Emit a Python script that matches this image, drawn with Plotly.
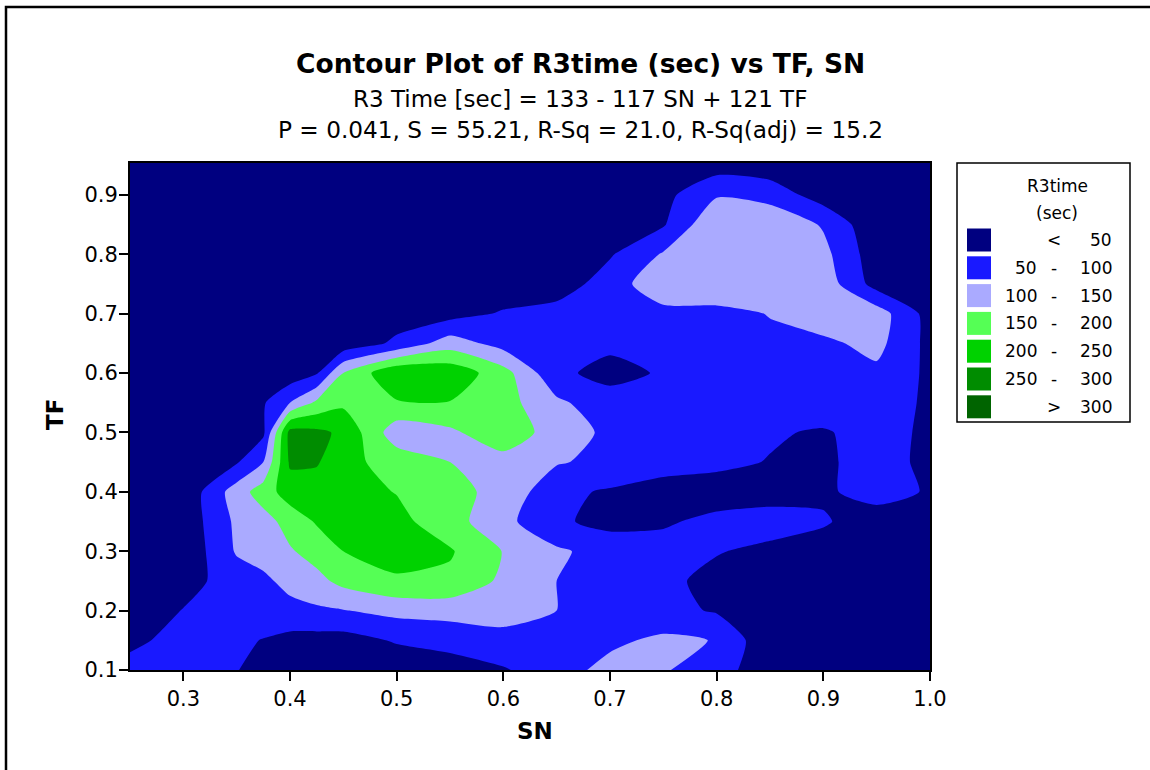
import plotly.graph_objects as go

# ---------------- data ----------------
sn_values = [0.25, 0.30, 0.35, 0.375, 0.40, 0.425, 0.45, 0.50, 0.55, 0.60, 0.65, 0.70, 0.75, 0.80, 0.85, 0.90, 0.95, 1.00]
tf_values = [0.10, 0.15, 0.20, 0.25, 0.30, 0.35, 0.40, 0.45, 0.50, 0.55, 0.60, 0.65, 0.70, 0.75, 0.80, 0.85, 0.90, 0.95]

# R3time (sec) estimated on the grid, one list per TF row (SN order as above)
r3_tf010 = [65, 60, 52, 30, 15, 12, 10, 15, 30, 45, 80, 115, 105, 70, 20, 10, 10, 10]
r3_tf015 = [40, 65, 60, 48, 35, 32, 30, 55, 65, 88, 92, 90, 110, 98, 10, 10, 10, 10]
r3_tf020 = [15, 52, 70, 78, 85, 92, 98, 115, 120, 115, 100, 85, 65, 45, 25, 20, 15, 15]
r3_tf025 = [5, 30, 75, 90, 115, 135, 165, 195, 190, 140, 100, 80, 58, 40, 30, 25, 20, 15]
r3_tf030 = [5, 10, 105, 120, 145, 170, 200, 215, 205, 148, 108, 80, 65, 52, 42, 30, 20, 15]
r3_tf035 = [5, 15, 110, 130, 170, 205, 220, 215, 170, 115, 58, 35, 45, 60, 65, 55, 25, 15]
r3_tf040 = [10, 10, 125, 175, 225, 225, 220, 198, 160, 140, 60, 45, 30, 30, 35, 42, 70, 45]
r3_tf045 = [10, 12, 45, 100, 258, 255, 215, 180, 150, 130, 105, 85, 70, 60, 48, 40, 75, 35]
r3_tf050 = [10, 10, 5, 40, 268, 262, 240, 120, 140, 185, 125, 90, 75, 65, 55, 45, 70, 40]
r3_tf055 = [10, 12, 25, 45, 100, 160, 190, 195, 198, 170, 110, 70, 65, 70, 75, 80, 80, 40]
r3_tf060 = [8, 10, 12, 15, 20, 45, 150, 245, 235, 170, 60, 35, 55, 70, 80, 85, 90, 40]
r3_tf065 = [10, 12, 15, 17, 20, 22, 15, 60, 125, 80, 70, 60, 70, 80, 90, 90, 115, 35]
r3_tf070 = [10, 12, 15, 16, 18, 20, 22, 25, 30, 55, 70, 80, 85, 85, 102, 130, 125, 30]
r3_tf075 = [10, 10, 12, 13, 15, 16, 18, 20, 20, 18, 22, 75, 135, 140, 140, 130, 30, 10]
r3_tf080 = [10, 10, 12, 12, 12, 13, 15, 15, 20, 25, 32, 45, 105, 145, 140, 115, 20, 8]
r3_tf085 = [10, 10, 10, 10, 10, 11, 12, 12, 15, 20, 25, 30, 45, 145, 140, 95, 10, 5]
r3_tf090 = [10, 10, 10, 10, 10, 10, 10, 10, 12, 15, 20, 30, 35, 95, 80, 25, 20, 15]
r3_tf095 = [10, 10, 10, 10, 10, 10, 10, 10, 10, 10, 10, 12, 15, 27, 20, 10, 10, 10]

level_start = 50
level_end = 300
level_step = 50
band_colors = ["#000080", "#1919FF", "#AAAAFF", "#55FF55", "#00D200", "#008C00", "#006400"]
legend_left = ["", "50", "100", "150", "200", "250", ""]
legend_mid = ["<", "-", "-", "-", "-", "-", ">"]
legend_right = ["50", "100", "150", "200", "250", "300", "300"]
x_ticks = [0.3, 0.4, 0.5, 0.6, 0.7, 0.8, 0.9, 1.0]
y_ticks = [0.1, 0.2, 0.3, 0.4, 0.5, 0.6, 0.7, 0.8, 0.9]

z_grid = [r3_tf010, r3_tf015, r3_tf020, r3_tf025, r3_tf030, r3_tf035, r3_tf040, r3_tf045, r3_tf050,
          r3_tf055, r3_tf060, r3_tf065, r3_tf070, r3_tf075, r3_tf080, r3_tf085, r3_tf090, r3_tf095]

# ---------------- figure ----------------
W, H = 1150, 770
PL, PR, PT, PB = 130, 930, 163, 670  # plot area in pixels


def px_x(px):
    return (px - PL) / (PR - PL)


def px_y(py):
    return (PB - py) / (PB - PT)


# stepwise colorscale, each band colour evaluated at the band midpoint
n = len(band_colors)
colorscale = []
for i, c in enumerate(band_colors):
    lo = max(0.0, (i - 0.5) / (n - 1))
    hi = min(1.0, (i + 0.5) / (n - 1))
    colorscale.append([lo, c])
    colorscale.append([hi, c])

fig = go.Figure()
fig.add_trace(go.Contour(
    x=sn_values, y=tf_values, z=z_grid,
    contours=dict(start=level_start, end=level_end, size=level_step,
                  coloring="fill", showlines=False),
    colorscale=colorscale, showscale=False,
    line=dict(width=0, smoothing=0.6),
    hoverinfo="skip",
))

FONT = "DejaVu Sans"

fig.update_layout(
    width=W, height=H,
    margin=dict(l=PL, r=W - PR, t=PT, b=H - PB, pad=0),
    paper_bgcolor="white", plot_bgcolor="#000080",
    showlegend=False,
    font=dict(family=FONT, color="black"),
    xaxis=dict(range=[0.25, 1.0], tickvals=x_ticks, ticktext=[f"{v:.1f}" for v in x_ticks],
               showgrid=False, zeroline=False, showline=True, linecolor="black", linewidth=2,
               mirror=True, ticks="outside", ticklen=9, tickwidth=2, tickcolor="black",
               tickfont=dict(size=21, family=FONT, color="black")),
    yaxis=dict(range=[0.1, 0.1 + (PB - PT) / 594.0], tickvals=y_ticks,
               ticktext=[f"{v:.1f}" for v in y_ticks],
               showgrid=False, zeroline=False, showline=True, linecolor="black", linewidth=2,
               mirror=True, ticks="outside", ticklen=9, tickwidth=2, tickcolor="black",
               ticklabelstandoff=-3,
               tickfont=dict(size=21, family=FONT, color="black")),
)

ann = []
# titles
ann.append(dict(text="<b>Contour Plot of R3time (sec) vs TF, SN</b>", x=px_x(580), y=px_y(64),
                font=dict(size=26.5, family=FONT)))
ann.append(dict(text="R3 Time [sec] = 133 - 117 SN + 121 TF", x=px_x(580), y=px_y(99),
                font=dict(size=23, family=FONT)))
ann.append(dict(text="P = 0.041, S = 55.21, R-Sq = 21.0, R-Sq(adj) = 15.2", x=px_x(580), y=px_y(129),
                font=dict(size=23.2, family=FONT)))
# axis titles
ann.append(dict(text="<b>SN</b>", x=px_x(535), y=px_y(731), font=dict(size=23, family=FONT)))
ann.append(dict(text="<b>TF</b>", x=px_x(55), y=px_y(415), textangle=-90, font=dict(size=23, family=FONT)))
# legend title
ann.append(dict(text="R3time", x=px_x(1057), y=px_y(186), font=dict(size=17, family=FONT)))
ann.append(dict(text="(sec)", x=px_x(1057), y=px_y(213), font=dict(size=17, family=FONT)))

shapes = []
# outer frame
shapes.append(dict(type="rect", xref="paper", yref="paper",
                   x0=px_x(6), x1=px_x(1170), y0=px_y(790), y1=px_y(7),
                   line=dict(color="black", width=2.5), fillcolor="rgba(0,0,0,0)", layer="above"))
# legend box
shapes.append(dict(type="rect", xref="paper", yref="paper",
                   x0=px_x(957), x1=px_x(1130), y0=px_y(422), y1=px_y(163),
                   line=dict(color="black", width=1.5), fillcolor="white"))
row_h = 27.8
for i in range(n):
    cy = 240 + i * row_h
    shapes.append(dict(type="rect", xref="paper", yref="paper",
                       x0=px_x(967), x1=px_x(991), y0=px_y(cy + 11.5), y1=px_y(cy - 11.5),
                       line=dict(width=0), fillcolor=band_colors[i]))
    if legend_left[i]:
        ann.append(dict(text=legend_left[i], x=px_x(1039), y=px_y(cy), xanchor="right",
                        font=dict(size=17, family=FONT)))
    ann.append(dict(text=legend_mid[i], x=px_x(1054), y=px_y(cy), xanchor="center",
                    font=dict(size=17, family=FONT)))
    ann.append(dict(text=legend_right[i], x=px_x(1114), y=px_y(cy), xanchor="right",
                    font=dict(size=17, family=FONT)))

for a in ann:
    a.setdefault("xref", "paper")
    a.setdefault("yref", "paper")
    a.setdefault("showarrow", False)
    a.setdefault("xanchor", "center")
    a.setdefault("yanchor", "middle")

fig.update_layout(annotations=ann, shapes=shapes)
fig.write_html("out.html")
